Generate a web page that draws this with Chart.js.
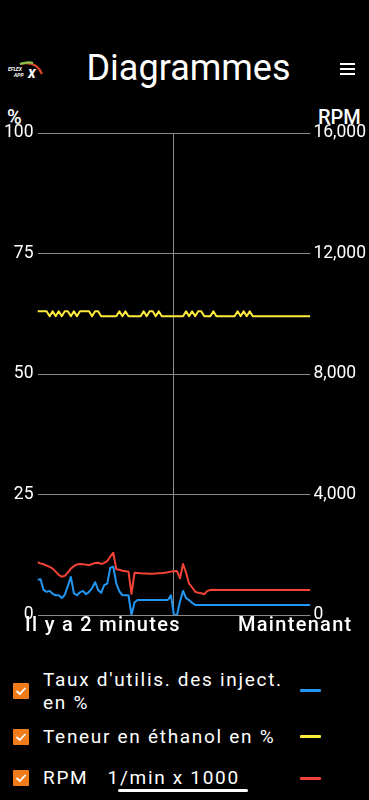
<!DOCTYPE html>
<html>
<head>
<meta charset="utf-8">
<script src="https://cdn.jsdelivr.net/npm/chart.js@4/dist/chart.umd.min.js"></script>
<style>
  html, body { margin:0; padding:0; background:#000; width:369px; height:800px; overflow:hidden; font-family: Roboto, "Noto Sans", sans-serif; color:#fff; }
  .abs { position:absolute; }
  #title { left:0; width:377px; top:44px; text-align:center; font-size:36px; font-weight:400; line-height:48px; }
  #menu { left:340px; top:63px; width:15px; }
  #menu div { height:2px; background:#fff; margin-bottom:3px; }
  #chartWrap { left:0; top:100px; width:369px; height:540px; }
  .axTitle { top:105px; font-size:20px; font-weight:500; }
  .xlab { top:612px; font-size:20px; font-weight:500; letter-spacing:1.3px; }
  .cb { position:absolute; left:13px; width:16px; height:16px; background:#ef7b1a; border-radius:1px; }
  .cb svg { position:absolute; left:0; top:0; }
  .ltxt { position:absolute; left:43px; font-size:19px; letter-spacing:1.7px; line-height:23px; }
  .sw { position:absolute; left:300px; width:21px; height:3px; border-radius:1px; }
</style>
</head>
<body>
<svg class="abs" style="left:6px;top:58px" width="40" height="22" viewBox="0 0 40 22">
  <path d="M14 6 Q30 2 36 16" stroke="#d8452a" stroke-width="2.2" fill="none"/>
  <path d="M14 6 Q22 3.5 27 5" stroke="#8bc34a" stroke-width="2.2" fill="none"/>
  <text x="2" y="13" font-size="5" font-style="italic" font-weight="700" fill="#fff" font-family="Roboto">EFLEX</text>
  <text x="8" y="19" font-size="5" font-style="italic" font-weight="700" fill="#fff" font-family="Roboto">APP</text>
  <text x="22" y="20" font-size="12" font-style="italic" font-weight="900" fill="#fff" font-family="Roboto">X</text>
</svg>
<div id="title" class="abs">Diagrammes</div>
<div id="menu" class="abs"><div></div><div></div><div></div></div>

<div class="abs axTitle" style="left:7px">%</div>
<div class="abs axTitle" style="left:318px">RPM</div>

<div id="chartWrap" class="abs"><canvas id="c" width="369" height="540"></canvas></div>

<div class="abs xlab" style="left:25px">Il y a 2 minutes</div>
<div class="abs xlab" style="left:238px">Maintenant</div>

<div class="cb" style="top:683px"><svg width="16" height="16"><polyline points="3.5,8 6.8,11 12.5,5" stroke="#fff" stroke-width="1.8" fill="none"/></svg></div>
<div class="ltxt" style="top:668px">Taux d'utilis. des inject.<br>en %</div>
<div class="sw" style="top:689px;background:#2196f3"></div>

<div class="cb" style="top:729px"><svg width="16" height="16"><polyline points="3.5,8 6.8,11 12.5,5" stroke="#fff" stroke-width="1.8" fill="none"/></svg></div>
<div class="ltxt" style="top:725px">Teneur en éthanol en %</div>
<div class="sw" style="top:735px;background:#ffeb3b"></div>

<div class="cb" style="top:770px"><svg width="16" height="16"><polyline points="3.5,8 6.8,11 12.5,5" stroke="#fff" stroke-width="1.8" fill="none"/></svg></div>
<div class="ltxt" style="top:766px">RPM&nbsp;&nbsp;&nbsp;1<span style="position:relative">/min x 1000<span style="position:absolute;left:-2px;right:-8px;top:23px;height:3px;background:#fff;border-radius:2px"></span></span></div>
<div class="sw" style="top:777px;background:#f44336"></div>

<script>
// Time axis: seconds from 2 minutes ago (index) to now
const times = [];
for (let i = 0; i <= 90; i++) times.push(i);

const injectorDuty = [
  7.3, 7.4, 5.2, 4.8, 5.0, 4.4, 4.1, 4.1, 3.5, 4.2,
  6.0, 7.9, 4.5, 4.1, 4.7, 5.0, 4.3, 4.8, 5.6, 6.8,
  5.2, 4.6, 6.2, 6.5, 9.8, 10.0, 6.5, 4.9, 4.1, 4.1,
  4.1, 0, 2.6, 3.1, 3.1, 3.1, 3.1, 3.1, 3.1, 3.1,
  3.1, 3.1, 3.1, 3.1, 4.1, 0, 0, 2.8, 5.0, 3.5,
  3.1, 2.5, 2.1, 2.1, 2.1, 2.1, 2.1, 2.1, 2.1, 2.1,
  2.1, 2.1, 2.1, 2.1, 2.1, 2.1, 2.1, 2.1, 2.1, 2.1,
  2.1, 2.1, 2.1, 2.1, 2.1, 2.1, 2.1, 2.1, 2.1, 2.1,
  2.1, 2.1, 2.1, 2.1, 2.1, 2.1, 2.1, 2.1, 2.1, 2.1, 2.1
];

const ethanol = [
  63, 63, 63, 63, 62, 63, 62, 63, 62, 63,
  63, 62, 63, 62, 63, 63, 63, 63, 62, 63,
  63, 62, 62, 62, 62, 62, 62, 63, 62, 63,
  62, 62, 62, 62, 62, 63, 62, 63, 63, 62,
  63, 62, 62, 62, 62, 62, 62, 62, 62, 63,
  62, 63, 62, 63, 63, 62, 62, 62, 63, 62,
  62, 62, 62, 62, 62, 62, 63, 62, 63, 62,
  63, 62, 62, 62, 62, 62, 62, 62, 62, 62,
  62, 62, 62, 62, 62, 62, 62, 62, 62, 62, 62
];

const rpm = [
  1750, 1715, 1685, 1640, 1595, 1540, 1440, 1330, 1272, 1300,
  1410, 1540, 1620, 1680, 1693, 1688, 1672, 1652, 1690, 1725,
  1736, 1695, 1730, 1790, 1940, 2068, 1520, 1500, 1470, 1455,
  1440, 700, 1400, 1395, 1385, 1380, 1375, 1372, 1372, 1380,
  1390, 1395, 1404, 1420, 1440, 1450, 1460, 1218, 1693, 1404,
  1040, 920, 770, 740, 720, 690, 800, 830, 835, 828,
  832, 830, 826, 830, 833, 829, 830, 834, 828, 831,
  830, 827, 832, 830, 829, 833, 830, 828, 831, 830,
  826, 830, 832, 829, 831, 830, 828, 833, 830, 829, 830
];

const leftTicks = [0, 25, 50, 75, 100];
const rightTicks = [0, 4000, 8000, 12000, 16000];

const gridColor = '#8a8a8a';
const tickFont = { family: 'Roboto', size: 17.5 };

new Chart(document.getElementById('c'), {
  type: 'line',
  data: {
    labels: times,
    datasets: [
      { label: "Taux d'utilis. des inject. en %", data: injectorDuty, borderColor: '#2196f3', yAxisID: 'yL', order: 2 },
      { label: 'Teneur en éthanol en %', data: ethanol, borderColor: '#ffeb3b', yAxisID: 'yL', order: 3 },
      { label: 'RPM', data: rpm, borderColor: '#f44336', yAxisID: 'yR', order: 1 }
    ]
  },
  options: {
    responsive: false,
    animation: false,
    events: [],
    layout: { padding: { top: 33, left: 0, right: 0, bottom: 25 } },
    elements: {
      point: { radius: 0 },
      line: { borderWidth: 2, tension: 0, fill: false, borderJoinStyle: 'round' }
    },
    plugins: { legend: { display: false }, tooltip: { enabled: false } },
    scales: {
      x: {
        type: 'linear',
        min: 0, max: 90,
        afterBuildTicks: (s) => { s.ticks = [{ value: 45 }]; },
        ticks: { display: false },
        grid: { color: gridColor, lineWidth: 1, drawTicks: false },
        border: { display: false }
      },
      yL: {
        position: 'left',
        min: 0, max: 100,
        afterBuildTicks: (s) => { s.ticks = leftTicks.map(v => ({ value: v })); },
        ticks: { color: '#fff', font: tickFont, padding: 4 },
        grid: { color: gridColor, lineWidth: 1, drawTicks: false },
        border: { display: false }
      },
      yR: {
        position: 'right',
        min: 0, max: 16000,
        afterBuildTicks: (s) => { s.ticks = rightTicks.map(v => ({ value: v })); },
        ticks: { color: '#fff', font: tickFont, padding: 3 },
        grid: { display: false, drawTicks: false },
        border: { display: false }
      }
    }
  }
});
</script>
</body>
</html>
